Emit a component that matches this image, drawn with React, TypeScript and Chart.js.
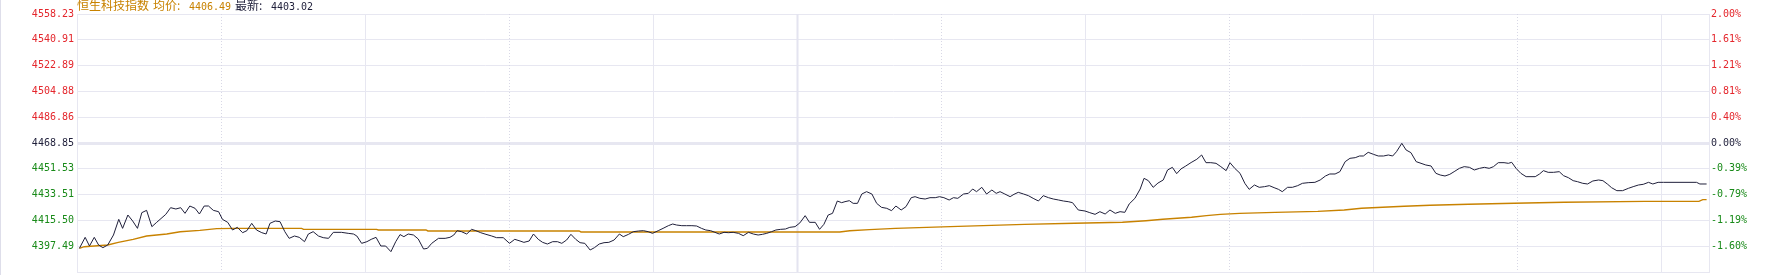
import React, { useEffect, useRef } from 'react';
import { Chart, registerables } from 'chart.js';

Chart.register(...registerables);

// ---- data ----
const prevClose = 4468.85;
const pctSteps = [2.0, 1.6, 1.2, 0.8, 0.4, 0, -0.4, -0.8, -1.2, -1.6, -2.0];
const priceTickLabels = ['4558.23', '4540.91', '4522.89', '4504.88', '4486.86', '4468.85', '4451.53', '4433.51', '4415.50', '4397.49', ''];
const pctTickLabels = ['2.00%', '1.61%', '1.21%', '0.81%', '0.40%', '0.00%', '-0.39%', '-0.79%', '-1.19%', '-1.60%', ''];
const sessionMinutes = 340; // 09:30-12:00 + 13:00-16:10
const gridMinutes = [30, 60, 90, 120, 150, 180, 210, 240, 270, 300, 330];
const lunchMinute = 150;

const headerName = '恒生科技指数';
const headerAvgLabel = '均价:';
const headerAvgValue = '4406.49';
const headerLastLabel = '最新:';
const headerLastValue = '4403.02';

// minutes since 09:30 (lunch break removed)
const priceMinutes = [
  0.5, 1.7, 2.6, 3.6, 4.5, 5.4, 6.4, 7.6, 8.7, 9.5, 10.6, 11.6, 12.6, 13.5, 14.5, 15.6, 16.6, 18.5, 19.5, 20.6,
  21.6, 22.5, 23.5, 24.6, 25.5, 26.5, 27.4, 28.4, 29.5, 30.3, 31.4, 32.4, 33.4, 34.5, 35.4, 36.4, 37.4, 38.5, 39.4, 40.2,
  41.3, 42.3, 43.3, 44.2, 45.3, 46.3, 47.4, 48.2, 49.2, 50.3, 51.3, 52.4, 53.4, 55.1, 56.5, 57.6, 58.3, 59.3, 60.4, 61.3,
  62.3, 63.3, 64.3, 65.4, 66.4, 67.3, 68.1, 69.0, 70.1, 71.1, 72.2, 73.0, 73.9, 75.3, 76.7, 77.7, 78.5, 79.2, 80.1, 81.2,
  82.2, 83.1, 84.1, 85.2, 86.4, 87.4, 88.8, 90.1, 91.2, 92.3, 93.1, 94.2, 95.1, 96.1, 97.0, 98.0, 99.1, 100.1, 101.0, 102.0,
  102.9, 103.9, 104.8, 105.8, 106.9, 107.8, 108.8, 109.8, 110.8, 111.9, 113.0, 113.8, 114.9, 115.9, 117.0, 118.0, 119.0, 119.9, 121.1, 122.1,
  123.2, 124.1, 124.9, 126.0, 127.0, 128.1, 129.1, 130.1, 131.0, 132.0, 132.9, 133.8, 134.8, 135.7, 136.7, 137.8, 138.8, 139.9, 140.9, 141.9,
  142.8, 143.7, 144.7, 145.6, 146.6, 147.6, 148.5, 149.6, 150.6, 151.7, 152.6, 153.8, 154.7, 155.6, 156.5, 157.4, 158.4, 159.3, 160.0, 160.9,
  161.7, 162.6, 163.5, 164.5, 165.6, 166.6, 167.6, 168.7, 169.7, 170.6, 171.7, 172.7, 173.8, 174.6, 175.6, 176.7, 177.7, 178.8, 179.7, 180.6,
  181.7, 182.6, 183.5, 184.7, 185.7, 186.6, 187.4, 188.5, 189.5, 190.6, 191.5, 192.3, 193.3, 194.4, 195.2, 196.1, 197.2, 198.2, 199.2, 200.3,
  201.3, 202.4, 203.4, 204.5, 205.5, 206.5, 207.4, 208.6, 210.0, 211.0, 212.1, 213.1, 214.2, 215.2, 216.3, 217.3, 218.3, 219.2, 220.4, 221.5,
  222.3, 223.2, 224.2, 225.2, 226.3, 227.2, 228.2, 229.1, 230.0, 231.0, 232.1, 233.3, 234.3, 235.2, 236.2, 237.3, 238.3, 239.4, 240.2, 241.2,
  242.3, 243.3, 244.2, 245.3, 246.3, 247.4, 248.4, 249.4, 250.3, 251.1, 252.2, 253.2, 254.3, 255.3, 256.5, 257.9, 259.0, 260.1, 261.0, 262.1,
  263.1, 264.2, 265.2, 266.3, 267.2, 268.0, 269.0, 270.1, 271.1, 272.2, 273.2, 274.1, 274.9, 276.0, 276.9, 277.9, 279.0, 280.0, 281.0, 282.1,
  283.1, 284.0, 285.0, 286.0, 286.9, 288.0, 289.0, 290.1, 291.1, 292.2, 293.2, 294.2, 295.1, 296.1, 297.3, 298.2, 298.9, 299.8, 300.8, 301.9,
  303.8, 304.7, 305.5, 306.5, 307.6, 308.8, 309.7, 310.7, 311.7, 312.6, 313.7, 314.7, 315.8, 317.0, 317.9, 318.9, 319.7, 320.8, 322.0, 323.2,
  324.2, 325.3, 326.3, 327.4, 328.3, 329.4, 330.5, 337.4, 338.1, 339.5,
];
const priceValues = [
  4395.86, 4403.49, 4397.48, 4403.49, 4398.17, 4396.33, 4398.17, 4405.10, 4415.96, 4409.72, 4418.96, 4414.80, 4409.72, 4420.58, 4422.19, 4410.88, 4413.88, 4419.42, 4424.04, 4423.12,
  4424.04, 4420.12, 4425.20, 4423.58, 4419.65, 4425.20, 4425.20, 4422.19, 4421.27, 4415.96, 4413.88, 4408.57, 4410.42, 4406.72, 4408.11, 4413.19, 4408.57, 4406.72, 4405.80, 4413.19,
  4414.80, 4414.34, 4407.41, 4402.79, 4404.41, 4403.49, 4400.48, 4405.80, 4407.41, 4404.41, 4403.26, 4402.79, 4406.95, 4406.95, 4406.26, 4405.80, 4404.41, 4399.33, 4400.48, 4402.10,
  4403.49, 4397.48, 4397.48, 4393.56, 4400.48, 4405.40, 4403.95, 4405.80, 4405.10, 4402.33, 4395.40, 4395.86, 4399.33, 4402.79, 4402.79, 4403.49, 4405.10, 4408.11, 4407.41, 4405.80,
  4409.03, 4408.11, 4406.72, 4405.57, 4404.41, 4403.26, 4403.26, 4399.33, 4402.10, 4400.95, 4400.02, 4400.95, 4405.80, 4402.10, 4400.02, 4398.87, 4400.48, 4400.48, 4399.33, 4401.64,
  4405.57, 4402.10, 4399.79, 4399.33, 4394.71, 4396.33, 4398.87, 4399.79, 4400.02, 4401.64, 4405.80, 4403.95, 4405.57, 4407.41, 4407.87, 4408.11, 4407.41, 4406.26, 4408.11, 4409.72,
  4411.57, 4412.72, 4412.03, 4411.57, 4411.57, 4411.57, 4411.34, 4409.72, 4408.57, 4408.11, 4406.95, 4405.80, 4406.95, 4406.72, 4406.95, 4406.26, 4404.64, 4406.95, 4405.80, 4405.10,
  4405.57, 4406.26, 4407.41, 4408.57, 4409.03, 4409.26, 4410.42, 4410.88, 4413.50, 4418.50, 4413.88, 4413.88, 4409.03, 4412.49, 4418.96, 4420.12, 4428.66, 4427.51, 4428.20, 4428.89,
  4427.04, 4427.04, 4433.51, 4435.13, 4433.51, 4427.04, 4424.27, 4423.58, 4421.96, 4425.20, 4422.43, 4424.73, 4430.97, 4431.66, 4430.51, 4430.05, 4430.97, 4430.97, 4431.66, 4430.97,
  4429.35, 4430.97, 4430.51, 4433.51, 4433.97, 4436.97, 4435.13, 4438.13, 4433.51, 4436.28, 4433.97, 4435.13, 4433.51, 4431.66, 4433.28, 4434.67, 4433.51, 4432.36, 4430.51, 4428.66,
  4432.36, 4430.97, 4430.05, 4429.35, 4428.66, 4428.20, 4427.51, 4422.43, 4421.73, 4420.58, 4419.42, 4421.27, 4419.65, 4422.43, 4420.12, 4421.27, 4420.81, 4426.58, 4430.51, 4436.97,
  4444.37, 4442.75, 4438.13, 4441.10, 4443.22, 4450.14, 4451.99, 4447.60, 4450.90, 4452.92, 4455.30, 4457.60, 4460.54, 4455.23, 4455.23, 4454.77, 4452.46, 4449.69, 4455.23, 4451.30,
  4447.84, 4440.91, 4436.75, 4439.75, 4438.14, 4438.60, 4439.29, 4437.91, 4436.75, 4435.13, 4438.14, 4438.14, 4439.29, 4440.91, 4441.37, 4441.60, 4443.22, 4445.99, 4447.38, 4447.38,
  4448.99, 4455.92, 4458.23, 4458.69, 4459.85, 4459.85, 4462.39, 4461.00, 4459.85, 4459.85, 4460.54, 4459.85, 4462.85, 4468.62, 4464.00, 4462.16, 4455.92, 4454.77, 4453.61, 4452.92,
  4447.84, 4446.68, 4445.99, 4447.14, 4448.99, 4451.30, 4452.46, 4451.99, 4450.15, 4451.30, 4451.99, 4451.30, 4452.46, 4455.23, 4455.23, 4454.77, 4455.46, 4451.30, 4447.84, 4445.53,
  4445.53, 4447.38, 4449.69, 4448.53, 4448.53, 4448.99, 4446.22, 4444.83, 4442.76, 4442.06, 4440.91, 4440.45, 4442.53, 4443.22, 4442.76, 4440.22, 4437.91, 4435.83, 4435.83, 4437.44,
  4438.60, 4439.75, 4440.22, 4441.60, 4440.45, 4441.60, 4441.60, 4441.60, 4440.45, 4440.45,
];

const avgMinutes = [
  0.5, 1.5, 6.4, 8.6, 11.7, 14.5, 18.7, 21.5, 25.6, 29.1, 32.6, 46.8, 47.2, 62.4, 62.8, 72.7, 73.1, 104.6, 105.0, 158.9,
  161.0, 165.1, 170.5, 177.0, 183.6, 190.5, 197.4, 207.8, 217.8, 222.7, 226.2, 229.2, 232.2, 235.3, 238.2, 242.2, 249.6, 258.5, 264.0, 267.6,
  272.0, 276.5, 281.9, 289.9, 299.4, 309.8, 326.6, 337.9, 338.7, 339.5,
];
const avgValues = [
  4395.9, 4397.0, 4398.2, 4400.0, 4402.1, 4404.4, 4405.8, 4407.4, 4408.3, 4409.5, 4409.7, 4409.7, 4409.0, 4409.0, 4408.6, 4408.6, 4407.9, 4407.9, 4407.2, 4407.2,
  4408.1, 4408.8, 4409.7, 4410.4, 4411.1, 4411.8, 4412.5, 4413.2, 4413.9, 4415.0, 4416.0, 4416.7, 4417.4, 4418.5, 4419.4, 4420.1, 4420.8, 4421.5, 4422.4, 4423.6,
  4424.3, 4425.0, 4425.7, 4426.4, 4427.1, 4427.8, 4428.4, 4428.4, 4429.6, 4429.6,
];

// ---- colours ----
const RED = '#e4262c';
const GREEN = '#188a18';
const DARK = '#1f1f3a';
const ORANGE = '#c88200';
const GRID = '#e7e7f1';

const tickColor = (i: number) => (i < 5 ? RED : i === 5 ? DARK : GREEN);

const verticalGridPlugin = {
  id: 'verticalGrid',
  beforeDatasetsDraw(chart: any) {
    const { ctx, chartArea, scales } = chart;
    const xs = scales.x;
    ctx.save();
    gridMinutes.forEach((m) => {
      const x = Math.round(xs.getPixelForValue(m)) + 0.5;
      const sessionOffset = m <= lunchMinute ? m : m - lunchMinute;
      ctx.beginPath();
      if (m === lunchMinute) {
        ctx.strokeStyle = '#e4e4f0';
        ctx.lineWidth = 2;
        ctx.setLineDash([]);
      } else if ((sessionOffset / 30) % 2 === 1) {
        ctx.strokeStyle = '#d8d8e6';
        ctx.lineWidth = 1;
        ctx.setLineDash([1, 2]);
      } else {
        ctx.strokeStyle = GRID;
        ctx.lineWidth = 1;
        ctx.setLineDash([]);
      }
      ctx.moveTo(x, chartArea.top);
      ctx.lineTo(x, chartArea.bottom);
      ctx.stroke();
    });
    ctx.restore();
  },
  afterDraw(chart: any) {
    // thin outer frame edge on the far left of the panel
    const { ctx, height } = chart;
    ctx.save();
    ctx.strokeStyle = '#dedeea';
    ctx.lineWidth = 1;
    ctx.beginPath();
    ctx.moveTo(0.5, 0);
    ctx.lineTo(0.5, height);
    ctx.stroke();
    ctx.restore();
  },
};

export default function App() {
  const ref = useRef<HTMLCanvasElement>(null);

  useEffect(() => {
    document.body.style.margin = '0';
    const yMin = prevClose * (1 + pctSteps[pctSteps.length - 1] / 100);
    const yMax = prevClose * (1 + pctSteps[0] / 100);
    const buildTicks = (s: any) => {
      s.ticks = pctSteps.map((p) => ({ value: prevClose * (1 + p / 100) }));
    };
    const tickFont = { family: "'DejaVu Sans Mono', monospace", size: 10 };

    const chart = new Chart(ref.current as HTMLCanvasElement, {
      type: 'line',
      data: {
        datasets: [
          {
            label: 'price',
            data: priceMinutes.map((m, i) => ({ x: m, y: priceValues[i] })),
            borderColor: DARK,
            borderWidth: 1,
            pointRadius: 0,
            tension: 0,
            yAxisID: 'y',
          },
          {
            label: 'avg',
            data: avgMinutes.map((m, i) => ({ x: m, y: avgValues[i] })),
            borderColor: ORANGE,
            borderWidth: 1.4,
            pointRadius: 0,
            tension: 0,
            yAxisID: 'y',
          },
        ],
      },
      options: {
        responsive: false,
        animation: false,
        events: [],
        layout: { padding: { top: 14, bottom: 3, left: 0, right: 0 } },
        plugins: { legend: { display: false }, tooltip: { enabled: false }, title: { display: false } },
        scales: {
          x: { type: 'linear', min: 0, max: sessionMinutes, display: false },
          y: {
            type: 'linear',
            position: 'left',
            min: yMin,
            max: yMax,
            afterBuildTicks: buildTicks,
            afterFit: (s: any) => {
              s.width = 77;
              s.paddingTop = 0;
              s.paddingBottom = 0;
            },
            ticks: {
              callback: (_v: any, i: number) => priceTickLabels[i],
              color: (c: any) => tickColor(c.index),
              font: tickFont,
              padding: 3,
              autoSkip: false,
            },
            grid: {
              color: GRID,
              lineWidth: (c: any) => (c.index === 5 ? 3 : 1),
              drawTicks: false,
            },
            border: { display: true, color: GRID, width: 1 },
          },
          y2: {
            type: 'linear',
            position: 'right',
            min: yMin,
            max: yMax,
            afterBuildTicks: buildTicks,
            afterFit: (s: any) => {
              s.width = 63;
              s.paddingTop = 0;
              s.paddingBottom = 0;
            },
            ticks: {
              callback: (_v: any, i: number) => pctTickLabels[i],
              color: (c: any) => tickColor(c.index),
              font: tickFont,
              padding: 2,
              autoSkip: false,
            },
            grid: { drawOnChartArea: false, drawTicks: false },
            border: { display: true, color: GRID, width: 1 },
          },
        },
      },
      plugins: [verticalGridPlugin],
    } as any);
    return () => chart.destroy();
  }, []);

  const cjk = "'Noto Sans CJK SC', sans-serif";
  const mono = "'DejaVu Sans Mono', monospace";
  const base: React.CSSProperties = { position: 'absolute', whiteSpace: 'nowrap', lineHeight: '12px' };

  return (
    <div style={{ position: 'relative', width: 1772, height: 275, background: '#ffffff', overflow: 'hidden' }}>
      <canvas ref={ref} width={1772} height={275} style={{ display: 'block', width: 1772, height: 275 }} />
      <span style={{ ...base, left: 77, top: -1, fontFamily: cjk, fontSize: 12, color: ORANGE }}>{headerName}</span>
      <span style={{ ...base, left: 153, top: -1, fontFamily: cjk, fontSize: 12, color: ORANGE }}>{headerAvgLabel}</span>
      <span style={{ ...base, left: 189, top: 1, fontFamily: mono, fontSize: 10, color: ORANGE }}>{headerAvgValue}</span>
      <span style={{ ...base, left: 235, top: -1, fontFamily: cjk, fontSize: 12, color: DARK }}>{headerLastLabel}</span>
      <span style={{ ...base, left: 271, top: 1, fontFamily: mono, fontSize: 10, color: DARK }}>{headerLastValue}</span>
    </div>
  );
}
